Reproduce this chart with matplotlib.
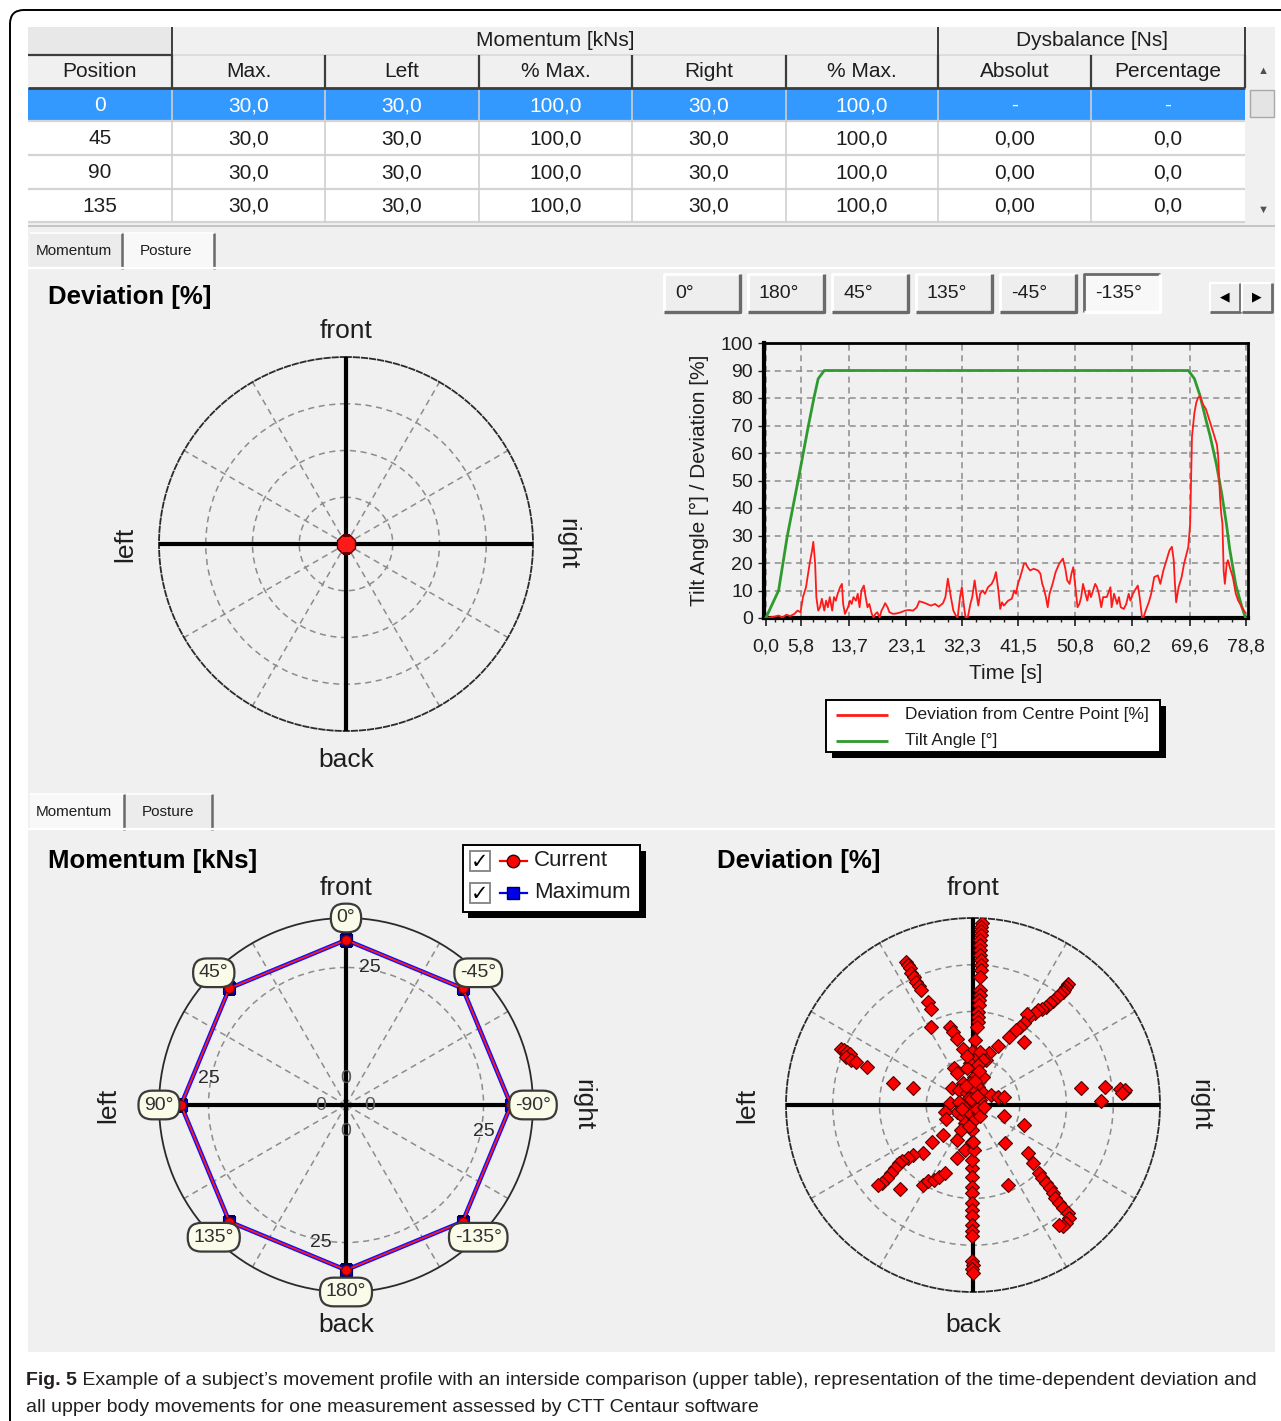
import numpy as np
import matplotlib
matplotlib.use("Agg")
import matplotlib.pyplot as plt
from matplotlib.patches import Rectangle, FancyBboxPatch

plt.rcParams['font.family'] = ['Liberation Sans', 'DejaVu Sans']

W, H = 1281, 1421

# ---------------- upper table ----------------
col_names = ["Position", "Max.", "Left", "% Max.", "Right", "% Max.", "Absolut", "Percentage"]
positions = [0, 45, 90, 135]
mom_max = [30.0, 30.0, 30.0, 30.0]
mom_left = [30.0, 30.0, 30.0, 30.0]
left_pct = [100.0, 100.0, 100.0, 100.0]
mom_right = [30.0, 30.0, 30.0, 30.0]
right_pct = [100.0, 100.0, 100.0, 100.0]
dys_abs = [None, 0.00, 0.00, 0.00]
dys_pct = [None, 0.0, 0.0, 0.0]

buttons = ["0°", "180°", "45°", "135°", "-45°", "-135°"]

# ---------------- time course ----------------
time_ticks = [0.0, 5.8, 13.7, 23.1, 32.3, 41.5, 50.8, 60.2, 69.6, 78.8]

tilt_t = [0.0, 2.1, 3.5, 5.3, 7.0, 7.9, 8.6, 9.6, 69.4, 70.4, 71.3, 72.3, 73.0,
          74.0, 74.9, 75.6, 76.2, 77.2, 78.2, 78.8]
tilt_v = [0, 10, 29.5, 50, 70, 80, 87, 90, 90, 87, 81, 72, 66,
          56, 45, 35, 25, 12, 4, 0]

dev_t = [0.0, 0.1, 1.4, 2.1, 2.7, 3.4, 4.0, 4.7, 5.2, 5.7, 6.1, 6.6, 7.2, 7.6, 7.8,
         8.1, 8.3, 8.6, 8.9, 9.2, 9.6, 9.9, 10.2, 10.5, 10.9, 11.2, 11.5, 11.8,
         12.2, 12.5, 12.7, 13.0, 13.5, 13.8, 14.1, 14.4, 14.8, 15.1, 15.4, 15.7,
         16.1, 16.4, 16.7, 17.0, 17.4, 17.7, 18.0, 18.3, 18.7, 19.0, 19.3, 19.6,
         20.0, 20.3, 20.9, 21.6, 22.2, 22.9, 23.5, 24.2, 24.8, 25.2, 25.8, 26.5,
         27.1, 27.8, 28.4, 29.1, 29.5, 29.9, 30.4, 30.8, 31.2, 31.5, 31.9, 32.2,
         32.5, 32.8, 33.2, 33.6, 33.9, 34.3, 34.6, 34.9, 35.2, 35.6, 36.0, 36.5,
         37.1, 37.5, 37.8, 38.2, 38.5, 38.8, 39.1, 39.8, 40.4, 40.8, 41.1, 41.4,
         41.7, 42.1, 42.4, 42.7, 43.0, 43.4, 44.0, 44.7, 45.1, 45.4, 45.6, 46.0,
         46.3, 46.6, 47.1, 47.6, 48.2, 48.8, 49.2, 49.5, 49.9, 50.2, 50.5, 50.8,
         51.2, 51.5, 51.8, 52.1, 52.5, 52.8, 53.1, 53.4, 54.1, 54.4, 54.7, 55.1,
         55.4, 56.0, 56.6, 56.8, 57.2, 57.7, 58.0, 58.3, 58.8, 59.2, 59.6, 59.9,
         60.3, 60.6, 61.1, 61.4, 61.8, 62.0, 62.4, 62.9, 63.3, 63.8, 64.4, 64.8,
         65.3, 65.8, 66.3, 66.7, 67.0, 67.2, 67.4, 67.8, 68.3, 68.7, 69.4, 69.7,
         70.0, 70.4, 70.7, 71.0, 71.3, 71.8, 72.3, 73.0, 73.6, 74.1, 74.3, 74.6,
         74.8, 75.0, 75.2, 75.4, 75.7, 75.9, 76.2, 76.7, 77.2, 77.6, 78.2, 78.7]
dev_v = [0.0, 0.0, 0.5, 0.9, 0.2, 1.2, 0.7, 1.5, 2.7, 2.1, 7.6, 11.2, 19.8, 24.6, 27.7,
         19.8, 7.6, 2.7, 3.9, 7.0, 2.7, 6.3, 3.9, 7.6, 2.7, 7.6, 6.3, 8.8,
         11.2, 12.4, 5.1, 1.5, 3.9, 6.3, 5.1, 7.6, 6.3, 8.8, 3.9, 10.0,
         11.8, 7.6, 3.9, 5.1, 1.5, 0.2, 1.5, 2.1, 0.2, 2.7, 3.9, 5.4,
         3.9, 2.1, 1.5, 1.7, 2.1, 2.7, 2.9, 2.7, 3.9, 6.1, 5.7, 5.1,
         4.5, 5.1, 4.1, 5.4, 7.6, 14.3, 7.6, 2.7, 0.9, 0.0, 7.6, 11.2,
         5.1, 0.2, 0.5, 5.1, 7.6, 13.7, 8.8, 4.5, 8.8, 10.0, 8.8, 11.2,
         12.4, 14.3, 16.7, 10.0, 3.3, 5.7, 4.5, 6.3, 7.0, 10.0, 8.8, 12.4,
         14.3, 17.3, 19.8, 19.8, 18.5, 17.3, 17.9, 17.3, 16.1, 12.4, 11.2, 7.6,
         3.9, 8.8, 12.4, 16.7, 19.8, 21.6, 17.9, 13.7, 12.4, 16.1, 18.5, 12.4,
         3.9, 5.1, 7.6, 12.4, 8.8, 6.3, 10.0, 7.6, 12.4, 11.2, 8.8, 3.9,
         7.6, 7.6, 11.2, 3.9, 8.8, 5.1, 7.6, 3.9, 3.3, 5.1, 8.8, 6.3,
         8.8, 10.0, 11.8, 7.6, 0.0, 0.0, 2.7, 5.7, 8.8, 14.9, 15.5, 12.4,
         17.3, 21.0, 24.6, 25.9, 21.0, 12.4, 5.7, 11.2, 14.9, 19.8, 25.9, 34.4,
         66.1, 74.6, 78.3, 80.1, 80.7, 77.7, 75.9, 71.0, 66.7, 63.0, 58.8, 44.1,
         38.0, 34.4, 17.3, 12.4, 19.8, 21.0, 18.5, 14.9, 8.8, 6.3, 3.9, 2.1]

# ---------------- momentum per direction [kNs] ----------------
directions = [0, 45, 90, 135, 180, -135, -90, -45]
current = [30.0, 30.0, 30.0, 30.0, 30.0, 30.0, 30.0, 30.0]
maximum = [30.0, 30.0, 30.0, 30.0, 30.0, 30.0, 30.0, 30.0]

# ---------------- upper body deviation [%] (x: right+, y: front+) ----------------
dev_x = [
    # front
    4.7, 4.5, 4.3, 4.1, 3.9, 3.9, 3.9, 3.9, 4.1, 4.3, 4.5, 3.9, 3.6, 3.6, 3.2, 3.0,
    2.8, 2.6, 2.6, 2.0, 1.2, 0.6,
    # front-left
    -35.9, -34.9, -33.9, -32.9, -31.6, -30.4, -29.0, -27.6, -24.1, -22.5, -22.5,
    -12.2, -10.7, -8.7, -5.3,
    # front-right
    50.9, 49.9, 48.9, 47.9, 46.5, 45.0, 43.0, 41.4, 39.1, 37.1, 34.7, 33.1, 30.2,
    28.8, 27.2, 25.2, 22.9, 19.3, 13.4, 8.5, 7.1, 27.2,
    # left
    -70.4, -69.0, -67.5, -65.9, -67.9, -65.1, -62.5, -56.6, -42.8, -32.3,
    # right
    57.8, 70.6, 68.6, 78.5, 80.5, 81.5, 79.5,
    # centre
    -0.4, 3.9, 0.6, 5.5, -1.4, 2.6, -3.4, -10.3, -8.3, 0.6, 5.5, -5.3, -1.4, 2.6,
    -11.2, -7.3, -3.4, 0.6, 5.5, 9.5, 13.4, 16.4, -12.2, -7.3, -3.4, 0.6, 3.6, -8.3,
    -5.3, -1.4, 2.6, -15.2, -14.2, -4.3, 0.6, -0.4, -6.3, -8.3, -0.4, -4.3, -8.3,
    -16.2, -22.1, -2.0, 2.0, -4.0, 1.0, -6.0, 4.0, -2.0, 3.0, -1.0, 6.0, -3.0, 2.0,
    # back-right
    16.4, 27.2, 17.0, 29.2, 32.1, 35.1, 37.1, 39.1, 41.0, 42.6, 44.0, 46.0, 47.9,
    50.9, 51.3, 49.9, 47.9, 46.0, 18.9,
    # back-left
    -27.0, -32.0, -34.9, -37.9, -39.8, -41.8, -43.8, -45.8, -48.7, -50.7, -38.9,
    -27.0, -24.1, -21.1, -18.1, -15.2,
    # back
    -0.4, -0.8, -0.8, -0.8, -0.8, -0.8, -0.8, -0.8, -0.8, -0.8, -0.4, 0.0, -0.4,
    0.0, -0.4, 0.6, 0.0,
]
dev_y = [
    97.3, 95.2, 93.1, 90.7, 88.1, 85.4, 82.7, 80.1, 77.4, 74.7, 72.4, 68.5, 61.4,
    58.7, 56.0, 53.4, 49.8, 47.2, 44.5, 41.8, 34.7, 28.5,
    76.5, 74.7, 73.0, 70.6, 68.5, 65.8, 63.5, 61.4, 55.2, 51.6, 41.8,
    41.8, 39.1, 35.1, 30.2,
    64.6, 63.2, 61.7, 60.5, 59.3, 57.8, 55.7, 54.3, 52.5, 51.2, 50.7, 49.3, 47.2,
    48.9, 43.9, 41.8, 40.0, 36.1, 31.5, 27.9, 24.0, 33.8,
    30.2, 29.4, 28.5, 27.2, 25.8, 24.0, 22.8, 20.1, 11.6, 8.9,
    8.9, 9.8, 2.3, 8.4, 7.1, 8.0, 6.2,
    28.5, 28.5, 24.0, 24.0, 22.2, 21.4, 19.6, 19.6, 16.9, 15.1, 15.1, 11.6, 11.6,
    9.8, 8.9, 8.0, 6.2, 7.1, 6.2, 5.3, 4.4, 4.4, 0.9, 1.8, -0.9, 0.9, 2.7, -3.6,
    -6.2, -4.4, -3.6, -3.6, -7.7, -9.8, -8.0, -13.3, -13.3, -18.7, -19.6, -24.0,
    -28.5, -16.0, -19.6, 4.0, -2.0, 10.0, 13.0, -2.0, -6.0, -11.0, 18.0, 3.0, -1.0,
    26.0, 5.0,
    -5.9, -10.7, -20.1, -25.8, -31.1, -36.5, -39.1, -41.8, -44.5, -47.2, -49.8,
    -52.5, -55.2, -57.8, -60.5, -63.2, -64.9, -64.1, -42.7,
    -25.8, -26.7, -28.5, -30.2, -31.1, -33.8, -36.5, -39.1, -41.5, -42.7, -45.0,
    -42.7, -40.9, -40.0, -38.3, -36.5,
    -33.8, -38.3, -43.6, -47.2, -52.5, -56.0, -59.6, -64.1, -67.6, -70.3, -83.6,
    -85.4, -87.7, -89.9, -29.4, -24.0, -19.6,
]

PANEL = '#f0f0f0'
TXT = '#1e1e1e'
RED = '#ff1a1a'
GREEN = '#2f9a2f'


def px_rect(x0, y0, x1, y1):
    return [x0 / W, 1 - y1 / H, (x1 - x0) / W, (y1 - y0) / H]


def box(ax, x0, y0, x1, y1, **kw):
    ax.add_patch(Rectangle((x0, y0), x1 - x0, y1 - y0, **kw))


def seg(ax, xs, ys, **kw):
    ax.plot(xs, ys, solid_capstyle='butt', **kw)


fig = plt.figure(figsize=(W / 100, H / 100), dpi=100)

bg = fig.add_axes([0, 0, 1, 1], zorder=0)
fg = fig.add_axes([0, 0, 1, 1], zorder=5)
for a in (bg, fg):
    a.set_xlim(0, W)
    a.set_ylim(H, 0)
    a.axis('off')
fg.patch.set_alpha(0)

# outer frame and screenshot panel
bg.add_patch(FancyBboxPatch((10, 10), 1320, 1460, boxstyle='round,pad=0,rounding_size=14',
                            fc='white', ec='black', lw=1.4))
box(bg, 28, 27, 1275, 1352, fc=PANEL, ec='none')

# ---------------- table ----------------
col_x = [28, 172, 325, 479, 632, 786, 938, 1091, 1245]
row_y = [88, 121, 155, 189, 222]

box(bg, 28, 27, 172, 55, fc='#e8e8e8', ec='none')
bg.text((172 + 938) / 2, 41, "Momentum [kNs]", ha='center', va='center', fontsize=15, color=TXT)
bg.text((938 + 1245) / 2, 41, "Dysbalance [Ns]", ha='center', va='center', fontsize=15, color=TXT)
for i, name in enumerate(col_names):
    bg.text((col_x[i] + col_x[i + 1]) / 2, 71.5, name, ha='center', va='center',
            fontsize=15, color=TXT)


def f1(v):
    return '-' if v is None else f"{v:.1f}".replace('.', ',')


def f2(v):
    return '-' if v is None else f"{v:.2f}".replace('.', ',')


for r in range(len(positions)):
    y0, y1 = row_y[r], row_y[r + 1]
    sel = r == 0
    box(bg, 28, y0, 1245, y1, fc='#3399ff' if sel else 'white', ec='none')
    cells = [str(positions[r]), f1(mom_max[r]), f1(mom_left[r]), f1(left_pct[r]),
             f1(mom_right[r]), f1(right_pct[r]), f2(dys_abs[r]), f1(dys_pct[r])]
    for c, s in enumerate(cells):
        bg.text((col_x[c] + col_x[c + 1]) / 2, (y0 + y1) / 2 + 1, s, ha='center', va='center',
                fontsize=15, color='white' if sel else TXT)
    seg(bg, [28, 1245], [y1, y1], color='#d4d4d4', lw=1.6)
for x in col_x[1:-1]:
    seg(bg, [x, x], [88, 222], color='#cfcfcf', lw=1.2)

# header borders
seg(bg, [28, 172], [55, 55], color='#3c3c3c', lw=1.6)
seg(bg, [172, 1245], [55, 55], color='#d8d8d8', lw=1.2)
seg(bg, [28, 1245], [88, 88], color='#3c3c3c', lw=2.0)
for x in col_x[1:]:
    seg(bg, [x, x], [55, 88], color='#3c3c3c', lw=1.6)
for x in (172, 938, 1245):
    seg(bg, [x, x], [27, 55], color='#3c3c3c', lw=1.4)

# scrollbar
box(bg, 1247, 55, 1275, 222, fc='#f0f0f0', ec='none')
box(bg, 1250, 90, 1274, 117, fc='#e4e4e4', ec='#a8a8a8', lw=1)
bg.text(1263, 71, '▲', ha='center', va='center', fontsize=8, color='#505050')
bg.text(1263, 210, '▼', ha='center', va='center', fontsize=8, color='#505050')
seg(bg, [28, 1275], [226, 226], color='#bdbdbd', lw=1.2)


# ---------------- tabs ----------------
def tab_bar(y0, y1, split, end, active):
    names = ["Momentum", "Posture"]
    edges = [28, split, end]
    for k in range(2):
        fc = '#f8f8f8' if k == active else '#ececec'
        box(bg, edges[k] + 2, y0, edges[k + 1], y1, fc=fc, ec='none')
        seg(bg, [edges[k + 1], edges[k + 1]], [y0, y1 + 2], color='#6a6a6a', lw=1.8)
        seg(bg, [edges[k] + 2, edges[k + 1]], [y0, y0], color='white', lw=1.2)
        bg.text(edges[k] + (8 if k == 0 else 18), (y0 + y1) / 2 + 1, names[k],
                ha='left', va='center', fontsize=11, color=TXT)
    seg(bg, [28, 1275], [y1 + 1, y1 + 1], color='white', lw=1.6)


tab_bar(233, 267, 122, 214, active=1)
tab_bar(794, 828, 124, 212, active=0)

# ---------------- orientation buttons ----------------
for k, lab in enumerate(buttons):
    x0 = 664 + k * 84
    x1 = x0 + 76
    pressed = k == len(buttons) - 1
    y0, y1 = 274, 312
    box(bg, x0, y0, x1, y1, fc='#f8f8f8' if pressed else '#eeeeee', ec='none')
    tl, br = ('#6a6a6a', 'white') if pressed else ('white', '#6a6a6a')
    seg(bg, [x0, x0, x1], [y1, y0, y0], color=tl, lw=2)
    seg(bg, [x0, x1, x1], [y1, y1, y0], color=br, lw=2.4)
    bg.text(x0 + 11, 294, lab, ha='left', va='center', fontsize=14, color=TXT)

for x0, glyph in ((1210, '◀'), (1242, '▶')):
    box(bg, x0, 283, x0 + 30, 312, fc='#eeeeee', ec='none')
    seg(bg, [x0, x0, x0 + 30], [312, 283, 283], color='white', lw=1.6)
    seg(bg, [x0, x0 + 30, x0 + 30], [312, 312, 283], color='#6a6a6a', lw=2)
    bg.text(x0 + 15, 297, glyph, ha='center', va='center', fontsize=9, color='black')

# ---------------- titles and direction labels ----------------
for x, y, s in ((48, 297, "Deviation [%]"), (48, 861, "Momentum [kNs]"), (717, 861, "Deviation [%]")):
    fg.text(x, y, s, ha='left', va='center', fontsize=18.5, fontweight='bold', color='black')


def direction_labels(cx, cy, top, bottom, side):
    fg.text(cx, cy - top, "front", ha='center', va='center', fontsize=19, color=TXT)
    fg.text(cx, cy + bottom, "back", ha='center', va='center', fontsize=19, color=TXT)
    fg.text(cx - side[0], cy, "left", ha='center', va='center', rotation=90, fontsize=19, color=TXT)
    fg.text(cx + side[1], cy, "right", ha='center', va='center', rotation=-90, fontsize=19, color=TXT)


direction_labels(346, 544, 213, 216, (221, 221))
direction_labels(346, 1105, 217, 220, (238, 237))
direction_labels(973, 1105, 217, 220, (226, 227))


# ---------------- polar frames ----------------
def polar_frame(cx, cy, r, rmax, rings, dashed_outer):
    ax = fig.add_axes(px_rect(cx - r, cy - r, cx + r, cy + r), projection='polar', zorder=2)
    ax.set_theta_zero_location('N')
    ax.set_facecolor('none')
    ax.set_ylim(0, rmax)
    ax.set_rgrids(rings, labels=[''] * len(rings))
    ax.set_thetagrids(np.arange(0, 360, 30), labels=[''] * 12)
    ax.grid(True, color='#8c8c8c', linestyle=(0, (4, 3)), linewidth=1.1)
    ax.tick_params(length=0)
    sp = ax.spines['polar']
    sp.set_color('#2a2a2a')
    sp.set_linewidth(1.3)
    if dashed_outer:
        sp.set_linestyle((0, (3, 1.5)))
    return ax


def cross(ax, reach):
    for ang in (0, 90, 180, 270):
        th = np.deg2rad(ang)
        ax.plot([th, th], [0, reach], color='black', lw=3, solid_capstyle='butt', zorder=3)


# top: current deviation only
ax_p1 = polar_frame(346, 544, 187, 100, [25, 50, 75], True)
cross(ax_p1, 100)
ax_p1.plot([0], [0], marker='8', ms=14, color=RED, mec='#5a0000', mew=1, zorder=4)

# bottom left: momentum per direction
mom_rmax = 34
ax_m = polar_frame(346, 1105, 187, mom_rmax, [25], False)
cross(ax_m, max(maximum))
th_dir = np.deg2rad(directions + directions[:1])
ax_m.plot(th_dir, maximum + maximum[:1], color='#1010ff', lw=3.2, marker='s', ms=8,
          mfc='#0000ee', mec='#000060', mew=0.8, zorder=4)
ax_m.plot(th_dir, current + current[:1], color='#ff1a1a', lw=1.3, marker='o', ms=7,
          mfc='#ff0000', mec='#700000', mew=0.8, zorder=5)
for d in directions:
    ax_m.text(np.deg2rad(d), mom_rmax, f"{d}°", ha='center', va='center', fontsize=14,
              color='#303030', zorder=6, clip_on=False,
              bbox=dict(boxstyle='round,pad=0.3,rounding_size=0.7', fc='#fbfbea',
                        ec='#3a3a3a', lw=1.6))
# radial value labels along the four axes
offsets = {0: (17, 0), 90: (0, 19), 180: (-18, 0), 270: (0, -19)}
for ang, off in offsets.items():
    for val, col in ((0, '#5a5a5a'), (25, '#2a2a2a')):
        ax_m.annotate(str(val), xy=(np.deg2rad(ang), val), xytext=off, textcoords='offset points',
                      ha='center', va='center', fontsize=14, color=col, zorder=6)

# bottom right: all deviation samples
ax_d = polar_frame(973, 1105, 187, 100, [25, 50, 75], True)
cross(ax_d, 100)
dx = np.array(dev_x)
dy = np.array(dev_y)
ax_d.plot(np.arctan2(-dx, dy), np.hypot(dx, dy), ls='none', marker='D', ms=7.2,
          mfc='#ff0000', mec='#500000', mew=0.8, zorder=4)

# ---------------- tilt angle / deviation time course ----------------
ax_t = fig.add_axes(px_rect(764, 343, 1248, 618), zorder=2)
ax_t.set_facecolor('none')
ax_t.plot(tilt_t, tilt_v, color=GREEN, lw=2, zorder=3)
ax_t.plot(dev_t, dev_v, color=RED, lw=1.3, zorder=4)
ax_t.set_xlim(-0.3, 79.2)
ax_t.set_ylim(0, 100)
ax_t.set_xticks(time_ticks)
ax_t.set_xticklabels([f"{t:.1f}".replace('.', ',') for t in time_ticks])
# four minor intervals between consecutive time ticks
minor = np.concatenate([np.linspace(a, b, 5)[1:-1] for a, b in zip(time_ticks[:-1], time_ticks[1:])])
ax_t.set_xticks(minor, minor=True)
ax_t.set_yticks(np.arange(0, 101, 10))
ax_t.grid(True, which='major', color='#8c8c8c', linestyle=(0, (4, 3)), linewidth=1.1)
ax_t.tick_params(axis='y', labelsize=14, colors=TXT, length=4, width=1, pad=4)
ax_t.tick_params(axis='x', which='major', labelsize=14, colors=TXT, length=6, width=1.2, pad=9)
ax_t.tick_params(axis='x', which='minor', colors=TXT, length=3, width=1)
for side, sp in ax_t.spines.items():
    sp.set_color('black')
    sp.set_linewidth(3 if side in ('left', 'bottom') else 2)
ax_t.set_xlabel("Time [s]", fontsize=15, color=TXT, labelpad=6)
ax_t.set_ylabel("Tilt Angle [°] / Deviation [%]", fontsize=15, color=TXT, labelpad=8)

# time course legend
box(fg, 832, 706, 1166, 758, fc='black', ec='none')
box(fg, 826, 700, 1160, 752, fc='white', ec='black', lw=1.4)
for y, col, lab in ((715, RED, "Deviation from Centre Point [%]"), (741, GREEN, "Tilt Angle [°]")):
    seg(fg, [836, 888], [y, y], color=col, lw=2)
    fg.text(905, y, lab, ha='left', va='center', fontsize=12.5, color=TXT)

# momentum legend
box(fg, 468, 851, 646, 918, fc='black', ec='none')
box(fg, 463, 845, 640, 912, fc='white', ec='black', lw=1.4)
for y, col, mk, lab in ((861, '#ff0000', 'o', "Current"), (893, '#0000ee', 's', "Maximum")):
    box(fg, 470, y - 10, 490, y + 10, fc='white', ec='#8a8a8a', lw=1.4)
    fg.text(480, y + 1, '✓', ha='center', va='center', fontsize=15, color='black',
            family='DejaVu Sans', fontweight='bold')
    fg.plot([500, 527], [y, y], color=col, lw=1.6)
    fg.plot([513], [y], marker=mk, ms=9, color=col, mec='#300000' if mk == 'o' else '#000040')
    fg.text(534, y, lab, ha='left', va='center', fontsize=16, color=TXT)

# ---------------- caption ----------------
cap = '#231f20'
t1 = fg.text(26, 1385, "Fig. 5", ha='left', va='baseline', fontsize=14, fontweight='bold', color=cap)
fg.annotate(" Example of a subject’s movement profile with an interside comparison (upper table), "
            "representation of the time-dependent deviation and",
            xy=(1, 0), xycoords=t1, va='bottom', ha='left', fontsize=14, color=cap)
fg.text(26, 1412, "all upper body movements for one measurement assessed by CTT Centaur software",
        ha='left', va='baseline', fontsize=14, color=cap)

fig.savefig('out.png', dpi=100, facecolor='white')
